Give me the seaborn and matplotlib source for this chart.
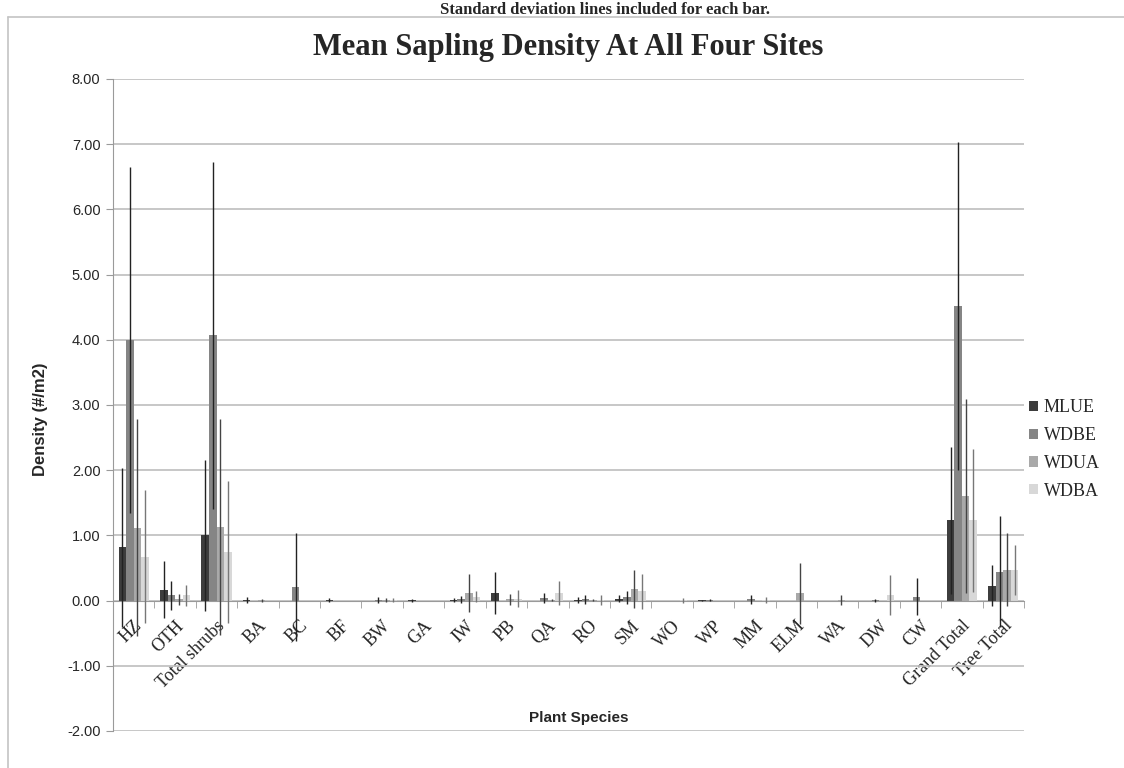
import numpy as np
import pandas as pd
import matplotlib
matplotlib.use("Agg")
import matplotlib.pyplot as plt
import seaborn as sns
from matplotlib.lines import Line2D

# ==========================================
# Data
# ==========================================
species = ["HZ", "OTH", "Total shrubs", "BA", "BC", "BF", "BW", "GA", "IW", "PB",
           "QA", "RO", "SM", "WO", "WP", "MM", "ELM", "WA", "DW", "CW",
           "Grand Total", "Tree Total"]
sites = ["MLUE", "WDBE", "WDUA", "WDBA"]

mlue = [0.82, 0.17, 1.00, 0.01, 0, 0.01, 0, 0.005, 0.01, 0.12, 0, 0.01, 0.03, 0,
        0.005, 0, 0, 0, 0, 0, 1.23, 0.23]
mlue_sd = [1.22, 0.43, 1.16, 0.04, 0, 0.03, 0, 0.02, 0.03, 0.32, 0, 0.05, 0.05, 0,
           0.01, 0, 0, 0, 0, 0, 1.13, 0.31]

wdbe = [4.00, 0.08, 4.07, 0, 0.21, 0, 0.01, 0, 0.02, 0, 0.04, 0.02, 0.05, 0,
        0.01, 0.02, 0, 0, 0.005, 0.06, 4.52, 0.44]
wdbe_sd = [2.65, 0.22, 2.66, 0, 0.83, 0, 0.04, 0, 0.05, 0, 0.08, 0.07, 0.10, 0,
           0.02, 0.07, 0, 0, 0.02, 0.28, 2.52, 0.85]

wdua = [1.12, 0.02, 1.13, 0.005, 0, 0, 0.01, 0, 0.12, 0.02, 0.01, 0.01, 0.18, 0,
        0, 0, 0.11, 0.01, 0, 0, 1.60, 0.47]
wdua_sd = [1.67, 0.08, 1.66, 0.02, 0, 0, 0.03, 0, 0.29, 0.08, 0.02, 0.02, 0.29, 0,
           0, 0, 0.47, 0.07, 0, 0, 1.49, 0.56]

wdba = [0.67, 0.08, 0.75, 0, 0, 0, 0.01, 0, 0.06, 0.03, 0.12, 0.01, 0.14, 0.005,
        0, 0.01, 0, 0, 0.09, 0, 1.23, 0.47]
wdba_sd = [1.02, 0.16, 1.09, 0, 0, 0, 0.03, 0, 0.08, 0.13, 0.18, 0.08, 0.27, 0.04,
           0, 0.05, 0, 0, 0.31, 0, 1.10, 0.39]

means = {"MLUE": mlue, "WDBE": wdbe, "WDUA": wdua, "WDBA": wdba}
sds = {"MLUE": mlue_sd, "WDBE": wdbe_sd, "WDUA": wdua_sd, "WDBA": wdba_sd}

bar_colors = ["#3d3d3d", "#858585", "#a9a9a9", "#d8d8d8"]
err_colors = ["#222222", "#222222", "#444444", "#777777"]

# long form table for seaborn
df = pd.DataFrame([
    {"Species": sp, "Site": site, "Density": means[site][i]}
    for site in sites for i, sp in enumerate(species)
])

# ==========================================
# Plot
# ==========================================
sns.set_style("white")
plt.rcParams["font.family"] = ["Liberation Serif", "DejaVu Serif"]

fig = plt.figure(figsize=(11.24, 7.68), dpi=100)
ax = fig.add_axes([113 / 1124, 1 - 731 / 768, (1024 - 113) / 1124, (731 - 79) / 768])

sns.barplot(data=df, x="Species", y="Density", hue="Site", hue_order=sites,
            order=species, palette=bar_colors, width=0.73, errorbar=None,
            saturation=1, linewidth=0, ax=ax)

# standard deviation lines, no caps
for k, site in enumerate(sites):
    cont = ax.containers[k]
    xs = [p.get_x() + p.get_width() / 2 for p in cont.patches]
    ax.errorbar(xs, means[site], yerr=sds[site], fmt="none",
                ecolor=err_colors[k], elinewidth=1.0, capsize=0, zorder=3)

ax.set_ylim(-2, 8)
ax.set_xlim(-0.5, len(species) - 0.5)
ax.set_yticks(np.arange(-2, 9, 1))
ax.set_yticklabels([f"{v:.2f}" for v in np.arange(-2, 9, 1)],
                   fontfamily="Liberation Sans", fontsize=10.5)
ax.yaxis.grid(True, color="#bdbdbd", linewidth=1.2)
ax.set_axisbelow(True)

for s in ["top", "right"]:
    ax.spines[s].set_visible(False)
ax.spines["left"].set_color("#9a9a9a")
ax.spines["bottom"].set_color("#9a9a9a")
ax.spines["bottom"].set_position(("data", 0))
ax.tick_params(axis="y", direction="out", length=5, color="#9a9a9a", left=True, pad=4)

ax.set_xticks(np.arange(-0.5, len(species), 1), minor=True)
ax.tick_params(axis="x", which="minor", direction="out", length=5, color="#9a9a9a", bottom=True)
ax.tick_params(axis="x", which="major", length=0, pad=12)
ax.set_xticklabels(species, rotation=45, ha="right", va="top",
                   rotation_mode="anchor", fontsize=13)

ax.set_xlabel("")
ax.set_ylabel("")
fig.text(40 / 1124, 1 - 419 / 768, "Density (#/m2)", rotation=90, ha="center",
         va="center", fontfamily="Liberation Sans", fontweight="bold", fontsize=12)
fig.text(579 / 1124, 1 - 718 / 768, "Plant Species", ha="center", va="center",
         fontfamily="Liberation Sans", fontweight="bold", fontsize=11)

fig.text(568 / 1124, 1 - 47 / 768, "Mean Sapling Density At All Four Sites",
         ha="center", va="center", fontweight="bold", fontsize=22)
fig.text(605 / 1124, 1 - 2 / 768, "Standard deviation lines included for each bar.",
         ha="center", va="top", fontweight="bold", fontsize=12)

# chart area border
fig.add_artist(Line2D([8 / 1124, 8 / 1124], [0, 1 - 17 / 768], color="#c4c4c4", lw=1.2))
fig.add_artist(Line2D([8 / 1124, 1], [1 - 17 / 768, 1 - 17 / 768], color="#c4c4c4", lw=1.2))

handles, labels = ax.get_legend_handles_labels()
ax.legend(handles, labels, loc="upper left", bbox_to_anchor=(1013 / 1124, 1 - 383 / 768),
          bbox_transform=fig.transFigure, frameon=False, fontsize=13,
          handlelength=0.5, handleheight=0.5, handletextpad=0.3, labelspacing=0.6)

fig.savefig("out.png", dpi=100)
plt.close(fig)
